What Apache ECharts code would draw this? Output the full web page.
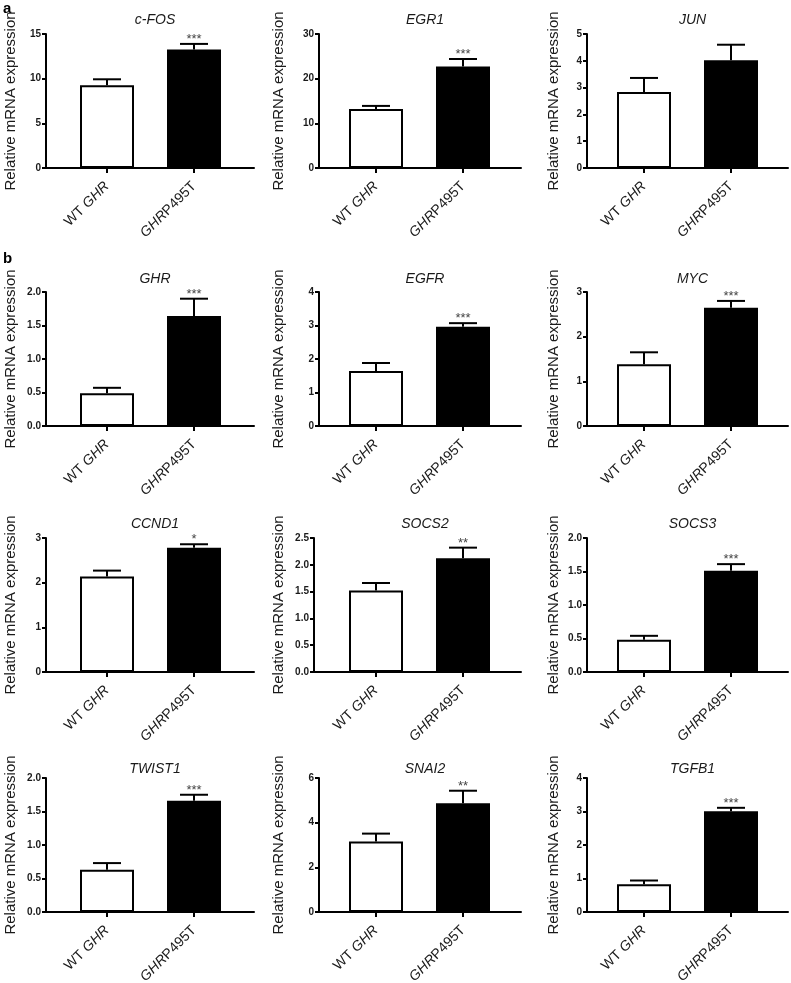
<!DOCTYPE html>
<html><head><meta charset="utf-8">
<script src="https://cdn.jsdelivr.net/npm/echarts@6/dist/echarts.min.js"></script>
<style>html,body{margin:0;padding:0;background:#fff}#c{width:791px;height:983px}</style>
</head><body><div id="c"></div>
<script>
// ---- data ----
const genes = ['c-FOS','EGR1','JUN','GHR','EGFR','MYC','CCND1','SOCS2','SOCS3','TWIST1','SNAI2','TGFB1'];
const groupLabels = ['{n|WT }{i|GHR}', '{i|GHR}{n|P495T}'];
const wtMean  = [9.26, 13.2, 2.84, 0.49, 1.64, 1.38, 2.14, 1.52, 0.48, 0.63, 3.16, 0.83];
const wtSem   = [0.67, 0.7,  0.52, 0.08, 0.24, 0.27, 0.13, 0.14, 0.06, 0.10, 0.35, 0.11];
const mutMean = [13.26, 22.7, 4.02, 1.64, 2.96, 2.65, 2.78, 2.12, 1.51, 1.66, 4.87, 3.01];
const mutSem  = [0.63, 1.7,  0.58, 0.26, 0.11, 0.15, 0.08, 0.20, 0.10, 0.09, 0.56, 0.10];
const signif  = ['***','***','','***','***','***','*','**','***','***','**','***'];
const yMax    = [15, 30, 5, 2, 4, 3, 3, 2.5, 2, 2, 6, 4];
const yStep   = [5, 10, 1, 0.5, 1, 1, 1, 0.5, 0.5, 0.5, 2, 1];
const panelLetters = ['a', 'b'];

// ---- layout ----
const rowTop = [34, 292, 538, 778];
const plotH = 134;
const colLeft = [46, 319, 587];
const colRight = [254, 521, 788];
const firstBarCenter = [107, 376, 644];
const barStep = 87;
const yNameX = [10, 278, 553];
const titleY = [16, 275, 520, 765];
const FONT = 'Liberation Sans, Arial, sans-serif';

const chart = echarts.init(document.getElementById('c'), null, {renderer: 'canvas'});
const grid = [], xAxis = [], yAxis = [], series = [], title = [];

genes.forEach((g, i) => {
  const r = Math.floor(i / 3), c = i % 3;
  const dec = (yStep[i] < 1) ? 1 : 0;
  let L = colLeft[c];
  if (c === 1 && dec === 1) L = 314;
  const R = colRight[c];
  const c0 = firstBarCenter[c];
  grid.push({left: L, top: rowTop[r], width: R - L, height: plotH, containLabel: false, outerBoundsMode: 'none'});
  xAxis.push({
    type: 'value', gridIndex: i,
    min: (L - c0) / barStep, max: (R - c0) / barStep,
    splitLine: {show: false},
    axisLine: {onZero: false, lineStyle: {color: '#000', width: 2}},
    axisTick: {customValues: [0, 1], length: 5, lineStyle: {color: '#000', width: 2}},
    axisLabel: {
      customValues: [0, 1], rotate: 45, margin: 16, fontStyle: 'normal',
      formatter: v => groupLabels[Math.round(v)],
      rich: {
        n: {fontFamily: FONT, fontSize: 14, fontStyle: 'normal', color: '#1a1a1a'},
        i: {fontFamily: FONT, fontSize: 14, fontStyle: 'italic', color: '#1a1a1a'}
      }
    }
  });
  yAxis.push({
    type: 'value', gridIndex: i, min: 0, max: yMax[i], interval: yStep[i],
    splitLine: {show: false},
    axisLine: {show: true, onZero: false, lineStyle: {color: '#000', width: 2}},
    axisTick: {show: true, length: 4, lineStyle: {color: '#000', width: 2}},
    axisLabel: {fontFamily: FONT, fontSize: 10, fontWeight: 'bold', color: '#1a1a1a', margin: 5,
      formatter: v => v.toFixed(dec)},
    name: 'Relative mRNA expression', nameLocation: 'middle', nameRotate: 90,
    nameGap: L - yNameX[c] - 8,
    nameTextStyle: {fontFamily: FONT, fontSize: 15, color: '#1a1a1a'}
  });
  title.push({
    text: g, left: (L + R) / 2 + (c === 1 && dec === 1 ? 2.5 : 0), top: titleY[r] - 8, textAlign: 'center',
    textStyle: {fontFamily: FONT, fontSize: 14, fontStyle: 'italic', fontWeight: 'normal', color: '#1a1a1a'}
  });
  series.push({
    type: 'bar', xAxisIndex: i, yAxisIndex: i, barWidth: 54, silent: true,
    data: [
      {value: [0, wtMean[i]], itemStyle: {color: '#fff', borderColor: '#000', borderWidth: 2}},
      {value: [1, mutMean[i]], itemStyle: {color: '#000', borderColor: '#000', borderWidth: 2}}
    ]
  });
  series.push({
    type: 'custom', xAxisIndex: i, yAxisIndex: i, silent: true, z: 5,
    data: [[0, wtMean[i], wtSem[i]], [1, mutMean[i], mutSem[i]]],
    renderItem: (params, api) => {
      const x = api.value(0), m = api.value(1), e = api.value(2);
      const p0 = api.coord([x, m]), p1 = api.coord([x, m + e]);
      const hw = 14;
      const children = [
        {type: 'line', shape: {x1: p0[0], y1: p0[1], x2: p1[0], y2: p1[1]}, style: {stroke: '#000', lineWidth: 2}},
        {type: 'line', shape: {x1: p1[0] - hw, y1: p1[1], x2: p1[0] + hw, y2: p1[1]}, style: {stroke: '#000', lineWidth: 2}}
      ];
      if (params.dataIndex === 1 && signif[i]) {
        children.push({type: 'text', style: {text: signif[i], x: p1[0], y: p1[1] + 2, align: 'center', verticalAlign: 'bottom',
          fontFamily: FONT, fontSize: 13, fill: '#444'}});
      }
      return {type: 'group', children};
    }
  });
});

chart.setOption({
  animation: false,
  backgroundColor: '#fff',
  title, grid, xAxis, yAxis, series,
  graphic: [
    {type: 'text', left: 3, top: 1, style: {text: panelLetters[0], fontFamily: FONT, fontSize: 15, fontWeight: 'bold', fill: '#000'}},
    {type: 'text', left: 3, top: 251, style: {text: panelLetters[1], fontFamily: FONT, fontSize: 15, fontWeight: 'bold', fill: '#000'}}
  ]
});
</script></body></html>
